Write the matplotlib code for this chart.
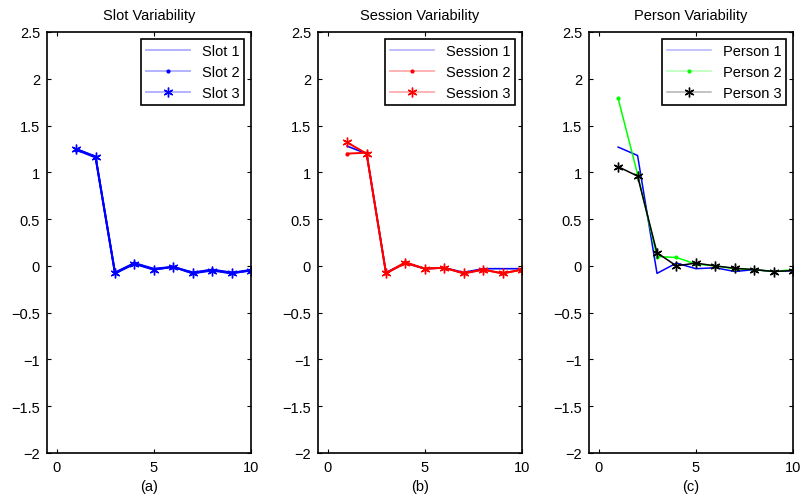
import numpy as np
import matplotlib.pyplot as plt
from matplotlib.colors import to_rgb

plt.rcParams['font.family'] = ['Liberation Sans', 'DejaVu Sans']
plt.rcParams['font.size'] = 10

x = np.arange(1, 11)

# slot variability
slot1 = [1.25, 1.17, -0.07, 0.03, -0.03, -0.01, -0.07, -0.04, -0.07, -0.05]
slot2 = [1.24, 1.16, -0.08, 0.03, -0.04, -0.01, -0.08, -0.04, -0.08, -0.04]
slot3 = [1.25, 1.16, -0.08, 0.02, -0.04, -0.01, -0.08, -0.05, -0.08, -0.05]

# session variability
sess1 = [1.28, 1.20, -0.07, 0.03, -0.03, -0.02, -0.07, -0.03, -0.03, -0.03]
sess2 = [1.20, 1.21, -0.08, 0.04, -0.03, -0.02, -0.08, -0.04, -0.08, -0.04]
sess3 = [1.32, 1.20, -0.08, 0.03, -0.03, -0.02, -0.08, -0.04, -0.08, -0.04]

# person variability
pers1 = [1.27, 1.18, -0.08, 0.03, -0.03, -0.02, -0.06, -0.04, -0.06, -0.05]
pers2 = [1.79, 0.98, 0.10, 0.09, 0.02, 0.00, -0.03, -0.04, -0.06, -0.04]
pers3 = [1.06, 0.96, 0.14, 0.00, 0.03, 0.00, -0.025, -0.04, -0.06, -0.05]

titles = ['Slot Variability', 'Session Variability', 'Person Variability']
sublabels = ['(a)', '(b)', '(c)']
yticks = [-2, -1.5, -1, -0.5, 0, 0.5, 1, 1.5, 2, 2.5]
ytick_labels = ['\u22122', '\u22121.5', '\u22121', '\u22120.5', '0', '0.5', '1', '1.5', '2', '2.5']

star = (6, 2, 0)  # asterisk, like matlab '*'

fig = plt.figure(figsize=(8.04, 5.02), dpi=100)
lefts = [47, 318, 589]
axes = []
for l in lefts:
    axes.append(fig.add_axes([l / 804, 1 - 454 / 502, 204 / 804, 421 / 502]))

ax = axes[0]
ax.plot(x, slot1, '-', color='b', lw=1.4, label='Slot 1')
ax.plot(x, slot2, '.-', color='b', lw=1.4, ms=4, label='Slot 2')
ax.plot(x, slot3, '-', marker=star, color='b', lw=1.4, ms=7, label='Slot 3')

ax = axes[1]
ax.plot(x, sess1, '-', color='b', lw=1.2, label='Session 1')
ax.plot(x, sess2, '.-', color='r', lw=1.4, ms=4, label='Session 2')
ax.plot(x, sess3, '-', marker=star, color='r', lw=1.4, ms=7, label='Session 3')

ax = axes[2]
ax.plot(x, pers1, '-', color='b', lw=1.1, label='Person 1')
ax.plot(x, pers2, '.-', color=(0, 1, 0), lw=1.1, ms=4, label='Person 2')
ax.plot(x, pers3, '-', marker=star, color='k', lw=1.1, ms=7, label='Person 3')

for i, ax in enumerate(axes):
    ax.set_xlim(-0.5, 10)
    ax.set_ylim(-2, 2.5)
    ax.set_xticks([0, 5, 10])
    ax.set_yticks(yticks)
    ax.set_yticklabels(ytick_labels)
    ax.tick_params(direction='in', top=True, right=True, length=3, width=0.8, pad=5,
                   labelsize=10.5)
    for s in ax.spines.values():
        s.set_linewidth(1.2)
    ax.set_title(titles[i], fontsize=10.5, pad=9)
    ax.set_xlabel(sublabels[i], fontsize=10.5, labelpad=4)
    leg = ax.legend(loc='upper right', fancybox=False, edgecolor='k', framealpha=1,
                    borderaxespad=0.45, handlelength=3.0, labelspacing=0.5, fontsize=10.5,
                    borderpad=0.35)
    leg.get_frame().set_linewidth(1.2)
    # faded legend lines, markers kept dark
    for h in leg.get_lines():
        c = np.array(to_rgb(h.get_color()))
        h.set_markerfacecolor(tuple(c))
        h.set_markeredgecolor(tuple(c))
        h.set_color(tuple(c * 0.3 + 0.7))

fig.savefig('out.png', dpi=100)
